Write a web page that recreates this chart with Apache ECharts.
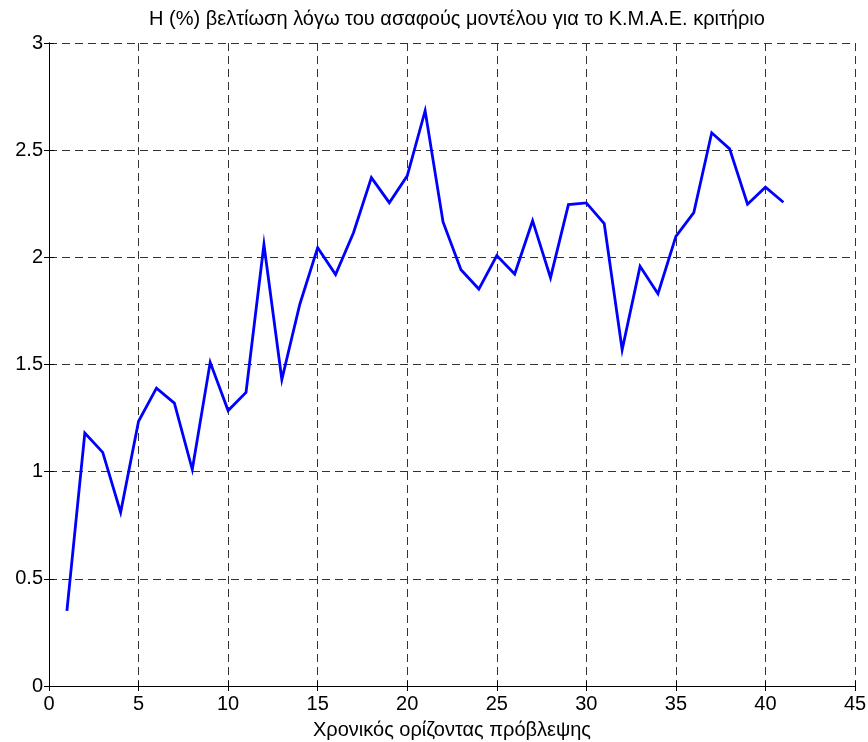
<!DOCTYPE html>
<html>
<head>
<meta charset="utf-8">
<script src="https://cdn.jsdelivr.net/npm/echarts@6/dist/echarts.min.js"></script>
<style>
  html, body { margin: 0; padding: 0; background: #fff; }
  #chart { width: 868px; height: 742px; }
</style>
</head>
<body>
<div id="chart"></div>
<script>
// Forecast horizon (steps) and percentage improvement of the fuzzy model (MAPE criterion)
const horizon = [1,2,3,4,5,6,7,8,9,10,11,12,13,14,15,16,17,18,19,20,21,22,23,24,25,26,27,28,29,30,31,32,33,34,35,36,37,38,39,40,41];
const improvement = [0.35,1.18,1.09,0.81,1.235,1.39,1.32,1.01,1.51,1.285,1.37,2.06,1.43,1.78,2.045,1.92,2.115,2.372,2.255,2.38,2.684,2.165,1.942,1.852,2.008,1.922,2.171,1.905,2.246,2.254,2.157,1.569,1.958,1.83,2.098,2.209,2.581,2.506,2.248,2.327,2.257];

const titleText = 'Η (%) βελτίωση λόγω του ασαφούς μοντέλου για το Κ.Μ.Α.Ε. κριτήριο';
const xName = 'Χρονικός ορίζοντας πρόβλεψης';

const fontFamily = '"Liberation Sans", Arial, Helvetica, sans-serif';
const dashed = { type: [8, 5], color: '#333', width: 1 };

const chart = echarts.init(document.getElementById('chart'), null, { renderer: 'canvas' });

const boxAxisX = {
  type: 'value', min: 0, max: 45, interval: 5,
  axisLine: { show: true, lineStyle: { color: '#000', width: 1 } },
  axisTick: { show: true, inside: true, length: 5, lineStyle: { color: '#000' } }
};
const boxAxisY = {
  type: 'value', min: 0, max: 3, interval: 0.5,
  axisLine: { show: true, lineStyle: { color: '#000', width: 1 } },
  axisTick: { show: true, inside: true, length: 5, lineStyle: { color: '#000' } }
};

chart.setOption({
  animation: false,
  backgroundColor: '#fff',
  title: {
    text: titleText,
    left: 452, top: 4, textAlign: 'center',
    textStyle: { fontFamily, fontSize: 20, fontWeight: 'normal', color: '#000' }
  },
  grid: {
    left: 49, right: 13, top: 43, bottom: 56,
    containLabel: false, outerBoundsMode: 'none'
  },
  xAxis: [
    Object.assign({}, boxAxisX, {
      position: 'bottom',
      name: xName, nameLocation: 'middle', nameGap: 34,
      nameTextStyle: { fontFamily, fontSize: 20, color: '#000' },
      axisLabel: { fontFamily, fontSize: 20, color: '#000', margin: 8,
        formatter: v => String(v) },
      splitLine: { show: true, lineStyle: dashed }
    }),
    Object.assign({}, boxAxisX, {
      position: 'top', axisLabel: { show: false }, splitLine: { show: false }
    })
  ],
  yAxis: [
    Object.assign({}, boxAxisY, {
      position: 'left',
      axisLabel: { fontFamily, fontSize: 20, color: '#000', margin: 6,
        formatter: v => String(v) },
      splitLine: { show: true, lineStyle: dashed }
    }),
    Object.assign({}, boxAxisY, {
      position: 'right', axisLabel: { show: false }, splitLine: { show: false }
    })
  ],
  series: [{
    type: 'line',
    data: horizon.map((h, i) => [h, improvement[i]]),
    showSymbol: false,
    symbol: 'none',
    lineStyle: { color: '#0000ff', width: 2.8, join: 'miter' },
    itemStyle: { color: '#0000ff' }
  }]
});
</script>
</body>
</html>
